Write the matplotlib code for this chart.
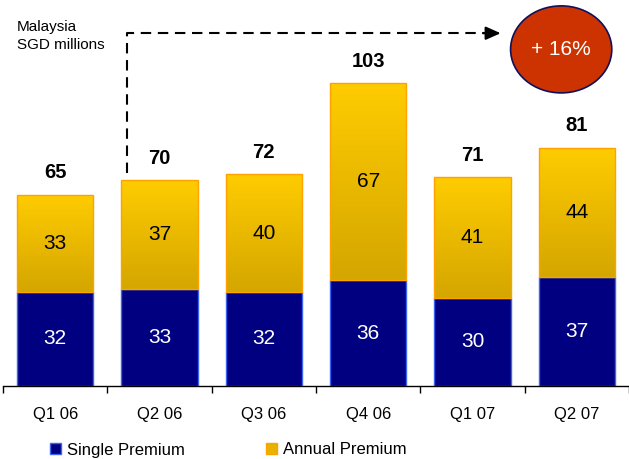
import matplotlib
matplotlib.use("Agg")
import matplotlib.pyplot as plt
import numpy as np
from matplotlib.colors import LinearSegmentedColormap
from matplotlib.patches import Ellipse, Patch

plt.rcParams["font.family"] = ["Liberation Sans", "DejaVu Sans"]

quarters = ["Q1 06", "Q2 06", "Q3 06", "Q4 06", "Q1 07", "Q2 07"]
single_premium = [32, 33, 32, 36, 30, 37]
annual_premium = [33, 37, 40, 67, 41, 44]
totals = [65, 70, 72, 103, 71, 81]
growth_label = "+ 16%"

NAVY = "#000080"
NAVY_EDGE = "#3f63f0"
GOLD_EDGE = "#ffa200"
gold_cmap = LinearSegmentedColormap.from_list("gold", ["#d4a600", "#ffcc00"])

fig = plt.figure(figsize=(6.29, 4.59), dpi=100)
ax = fig.add_axes([3 / 629, 73 / 459, 626 / 629, 386 / 459])

x = np.arange(len(quarters))
width = 0.73

ax.bar(x, single_premium, width, color=NAVY, edgecolor=NAVY_EDGE, linewidth=1.0, zorder=2)
annual_bars = ax.bar(x, annual_premium, width, bottom=single_premium,
                     color="none", edgecolor=GOLD_EDGE, linewidth=1.0, zorder=3)

# vertical gold gradient inside each annual-premium segment
grad = np.linspace(0, 1, 256).reshape(-1, 1)
for bar in annual_bars:
    x0, y0 = bar.get_x(), bar.get_y()
    w, h = bar.get_width(), bar.get_height()
    im = ax.imshow(grad, cmap=gold_cmap, origin="lower", aspect="auto",
                   extent=(x0, x0 + w, y0, y0 + h), zorder=2.5)
    im.set_clip_path(bar)

for xi, sp, ap, tot in zip(x, single_premium, annual_premium, totals):
    ax.text(xi, sp / 2, str(sp), ha="center", va="center", color="white", fontsize=15, zorder=4)
    ax.text(xi, sp + ap / 2, str(ap), ha="center", va="center", color="black", fontsize=15, zorder=4)
    ax.text(xi, tot + 7.5, str(tot), ha="center", va="center", color="black",
            fontsize=14.5, fontweight="bold", zorder=4)

ax.set_xlim(-0.5, len(quarters) - 0.5)
ax.set_ylim(0, 131.3)

for side in ("top", "right", "left"):
    ax.spines[side].set_visible(False)
ax.spines["bottom"].set_color("black")
ax.spines["bottom"].set_linewidth(1.0)
ax.set_yticks([])
ax.set_xticks(x)
ax.set_xticklabels(quarters, fontsize=12)
ax.set_xticks(np.arange(-0.5, len(quarters)), minor=True)
ax.tick_params(axis="x", which="major", length=0, pad=15)
ax.tick_params(axis="x", which="minor", length=5, width=1.0, color="black")

# dashed growth arrow from Q2 06 across to the badge
ax.plot([0.69, 0.69, 4.12], [72.5, 120, 120], color="black", linewidth=1.5,
        linestyle=(0, (5, 3.2)), clip_on=False, zorder=5)
ax.annotate("", xy=(4.27, 120), xytext=(4.1, 120),
            arrowprops=dict(arrowstyle="-|>,head_length=0.9,head_width=0.4",
                            color="black", lw=1.5, shrinkA=0, shrinkB=0),
            annotation_clip=False, zorder=5)

badge = Ellipse((4.85, 114.5), 0.97, 29.6, facecolor="#cc3300", edgecolor="#10105a",
                linewidth=1.2, clip_on=False, zorder=5)
ax.add_patch(badge)
ax.text(4.85, 114.5, growth_label, ha="center", va="center", color="white", fontsize=15, zorder=6)

fig.text(17 / 629, 1 - 36 / 459, "Malaysia\nSGD millions", ha="left", va="center",
         fontsize=11, linespacing=1.3)

handles = [
    Patch(facecolor=NAVY, edgecolor=NAVY_EDGE, linewidth=1.0, label="Single Premium"),
    Patch(facecolor="#e6b400", edgecolor=GOLD_EDGE, linewidth=1.0, label="Annual Premium"),
]
fig.legend(handles=handles, loc="center left", bbox_to_anchor=(43 / 629, 1 - 450 / 459),
           ncol=2, frameon=False, fontsize=12, handlelength=0.66, handleheight=0.66,
           handletextpad=0.36, columnspacing=4.9, borderaxespad=0)

fig.savefig("out.png", dpi=100)
